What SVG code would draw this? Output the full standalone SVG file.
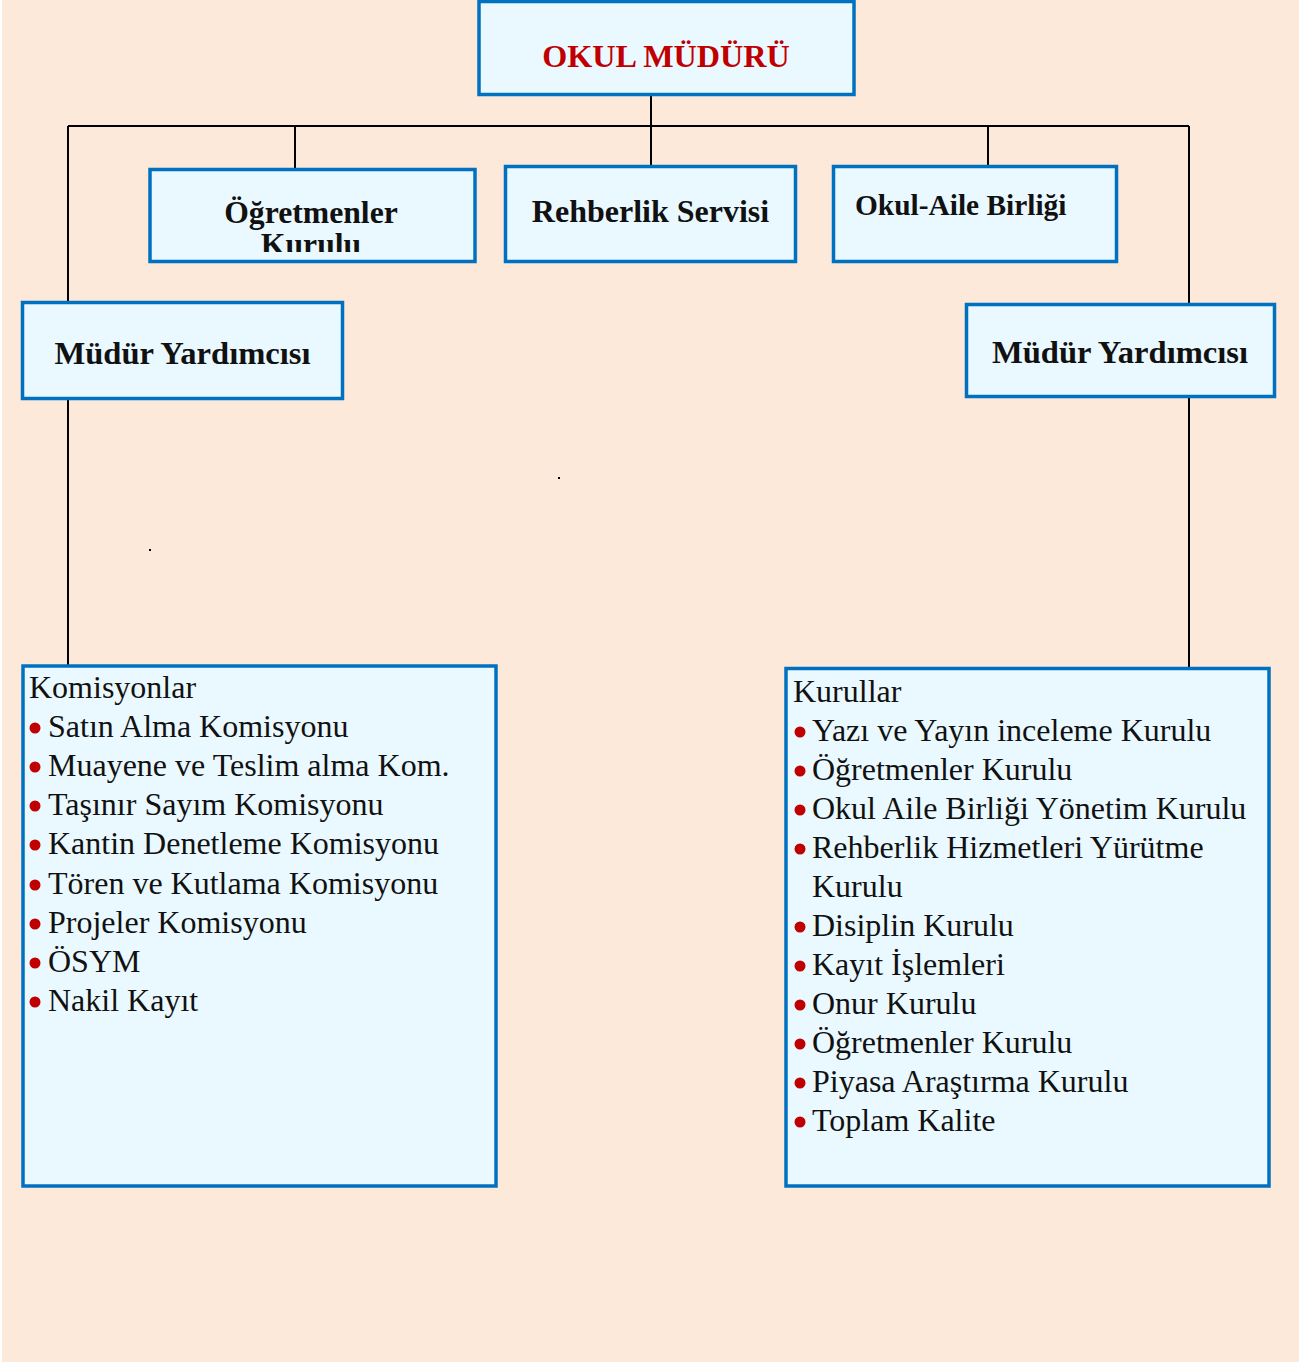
<svg xmlns="http://www.w3.org/2000/svg" width="1301" height="1364" viewBox="0 0 1301 1364">
<style>
.box{fill:#EAF9FF;stroke:#0070C0;stroke-width:3.5}
.b{font-family:"Liberation Serif","Times New Roman",serif;font-weight:bold;fill:#111}
.r{font-family:"Liberation Serif","Times New Roman",serif;font-size:32px;fill:#111}
.dot{fill:#C00000}
.con{stroke:#000;stroke-width:2;fill:none}
</style>
<defs>
<clipPath id="clipOK"><rect x="150" y="170" width="325" height="82"/></clipPath>
</defs>
<rect x="0" y="0" width="1301" height="1364" fill="#FFFFFF"/>
<rect x="2" y="0" width="1297" height="1362" fill="#FCE9DA"/>
<g id="connectors">
<path class="con" d="M651 96V126M68 126H1189M295 126V168M651 126V165M988 126V165M68 126V302M1189 126V303M68 399V665M1189 397V667"/>
</g>
<g id="okul-muduru">
<rect class="box" x="479" y="1.5" width="375" height="93"/>
<text class="b" x="666" y="67" font-size="32.2" text-anchor="middle" style="fill:#C00000">OKUL MÜDÜRÜ</text>
</g>
<g id="ogretmenler-kurulu">
<rect class="box" x="150" y="169.5" width="325" height="92"/>
<g clip-path="url(#clipOK)">
<text class="b" x="311" y="223" font-size="31.7" text-anchor="middle">Öğretmenler</text>
<text class="b" x="311" y="255" font-size="31.7" text-anchor="middle">Kurulu</text>
</g>
</g>
<g id="rehberlik-servisi">
<rect class="box" x="505.5" y="166.5" width="290" height="95"/>
<text class="b" x="650.5" y="222" font-size="32" text-anchor="middle">Rehberlik Servisi</text>
</g>
<g id="okul-aile-birligi">
<rect class="box" x="833.5" y="166.5" width="283" height="95"/>
<text class="b" x="855" y="215" font-size="29.4">Okul-Aile Birliği</text>
</g>
<g id="mudur-yardimcisi-sol">
<rect class="box" x="22.5" y="302.5" width="320" height="96"/>
<text class="b" x="182.5" y="364" font-size="32.6" text-anchor="middle">Müdür Yardımcısı</text>
</g>
<g id="mudur-yardimcisi-sag">
<rect class="box" x="966.5" y="304.5" width="308" height="92"/>
<text class="b" x="1120" y="363" font-size="32.6" text-anchor="middle">Müdür Yardımcısı</text>
</g>
<g id="komisyonlar">
<rect class="box" x="23" y="666" width="473" height="520"/>
<text class="r" x="29" y="698">Komisyonlar</text>
<circle class="dot" cx="35" cy="728" r="5.5"/><text class="r" x="48" y="737">Satın Alma Komisyonu</text>
<circle class="dot" cx="35" cy="767" r="5.5"/><text class="r" x="48" y="776">Muayene ve Teslim alma Kom.</text>
<circle class="dot" cx="35" cy="806" r="5.5"/><text class="r" x="48" y="815">Taşınır Sayım Komisyonu</text>
<circle class="dot" cx="35" cy="845" r="5.5"/><text class="r" x="48" y="854">Kantin Denetleme Komisyonu</text>
<circle class="dot" cx="35" cy="885" r="5.5"/><text class="r" x="48" y="894">Tören ve Kutlama Komisyonu</text>
<circle class="dot" cx="35" cy="924" r="5.5"/><text class="r" x="48" y="933">Projeler Komisyonu</text>
<circle class="dot" cx="35" cy="963" r="5.5"/><text class="r" x="48" y="972">ÖSYM</text>
<circle class="dot" cx="35" cy="1002" r="5.5"/><text class="r" x="48" y="1011">Nakil Kayıt</text>
</g>
<g id="kurullar">
<rect class="box" x="786" y="668.5" width="483" height="517.5"/>
<text class="r" x="793" y="702">Kurullar</text>
<circle class="dot" cx="800" cy="732" r="5.5"/><text class="r" x="812" y="741">Yazı ve Yayın inceleme Kurulu</text>
<circle class="dot" cx="800" cy="771" r="5.5"/><text class="r" x="812" y="780">Öğretmenler Kurulu</text>
<circle class="dot" cx="800" cy="810" r="5.5"/><text class="r" x="812" y="819">Okul Aile Birliği Yönetim Kurulu</text>
<circle class="dot" cx="800" cy="849" r="5.5"/><text class="r" x="812" y="858">Rehberlik Hizmetleri Yürütme</text>
<text class="r" x="812" y="897">Kurulu</text>
<circle class="dot" cx="800" cy="927" r="5.5"/><text class="r" x="812" y="936">Disiplin Kurulu</text>
<circle class="dot" cx="800" cy="966" r="5.5"/><text class="r" x="812" y="975">Kayıt İşlemleri</text>
<circle class="dot" cx="800" cy="1005" r="5.5"/><text class="r" x="812" y="1014">Onur Kurulu</text>
<circle class="dot" cx="800" cy="1044" r="5.5"/><text class="r" x="812" y="1053">Öğretmenler Kurulu</text>
<circle class="dot" cx="800" cy="1083" r="5.5"/><text class="r" x="812" y="1092">Piyasa Araştırma Kurulu</text>
<circle class="dot" cx="800" cy="1122" r="5.5"/><text class="r" x="812" y="1131">Toplam Kalite</text>
</g>
<rect x="558" y="477" width="2" height="2" fill="#000"/>
<rect x="149" y="549" width="2" height="2" fill="#000"/>
</svg>
